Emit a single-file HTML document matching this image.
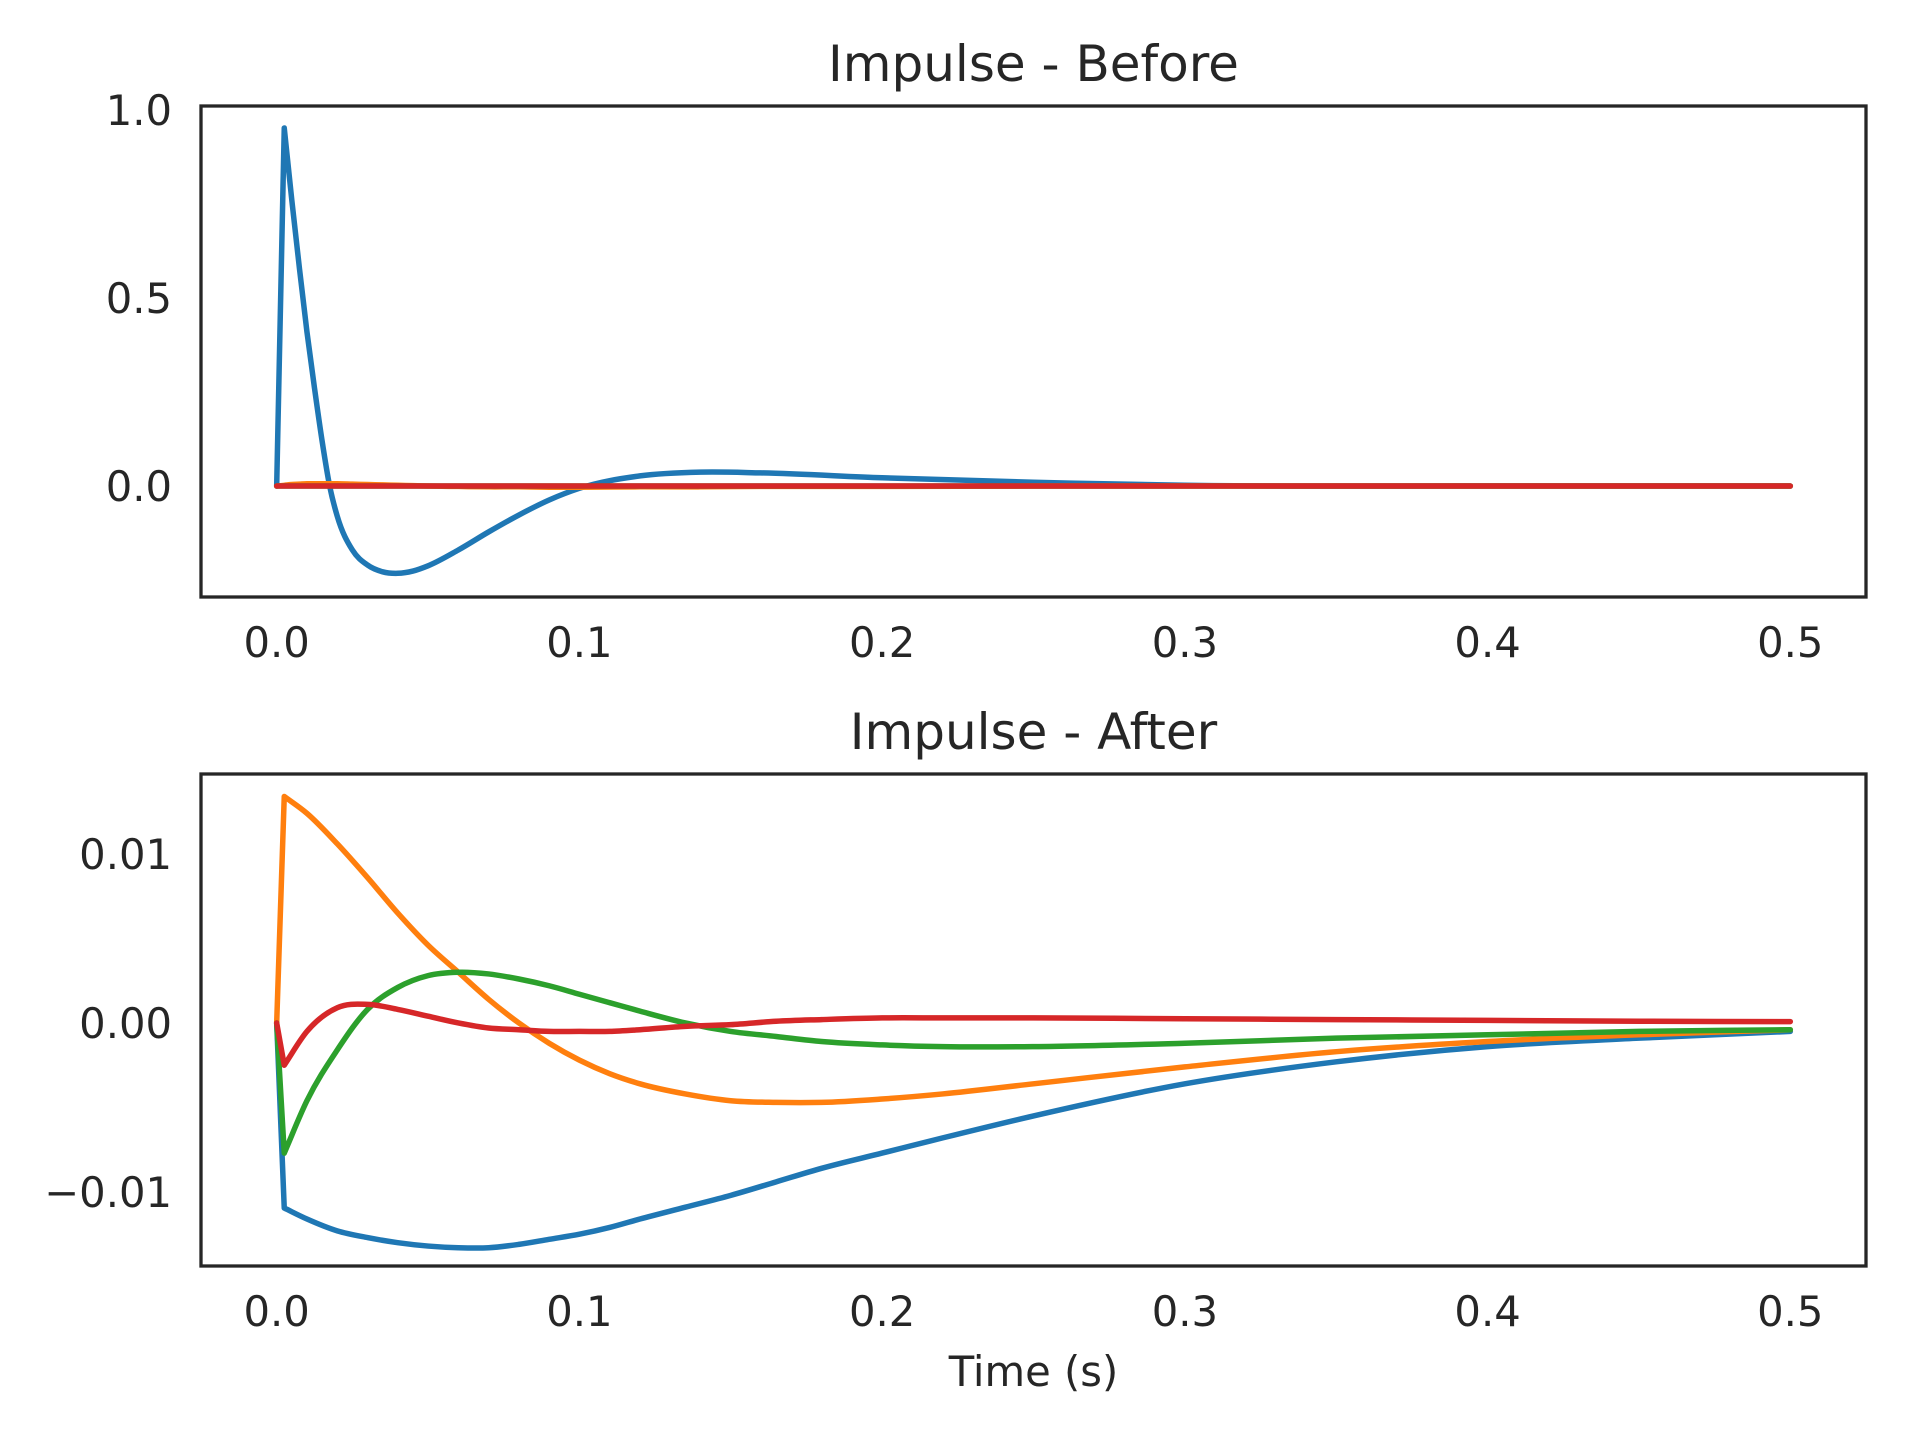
<!DOCTYPE html>
<html><head><meta charset="utf-8"><style>
html,body{margin:0;padding:0;background:#fff;}
svg{display:block;}
text{font-family:"DejaVu Sans","Liberation Sans",sans-serif;fill:#262626;}
</style></head><body>
<svg id="chart" width="1920" height="1440" viewBox="0 0 1920 1440"></svg>
<script>
// ---- data ----
const xTicks = [0.0, 0.1, 0.2, 0.3, 0.4, 0.5];
const xTickLabels = ["0.0", "0.1", "0.2", "0.3", "0.4", "0.5"];
const topYTicks = [0.0, 0.5, 1.0];
const topYTickLabels = ["0.0", "0.5", "1.0"];
const botYTicks = [-0.01, 0.0, 0.01];
const botYTickLabels = ["\u22120.01", "0.00", "0.01"];
const seriesColors = ["#1f77b4", "#ff7f0e", "#2ca02c", "#d62728"];

const beforeT = [0,0.0025,0.005,0.0075,0.01,0.0125,0.015,0.0175,0.02,0.025,0.03,0.035,0.04,0.045,0.05,0.06,0.07,0.08,0.09,0.1,0.12,0.14,0.16,0.2,0.25,0.3,0.4,0.5];
const beforeBlue = [0,0.952,0.76,0.58,0.41,0.26,0.12,0.0,-0.08,-0.17,-0.21,-0.228,-0.232,-0.226,-0.212,-0.17,-0.122,-0.077,-0.037,-0.006,0.027,0.037,0.035,0.022,0.01,0.002,0,0];
const beforeOrange = [0,0.002,0.004,0.005,0.006,0.006,0.006,0.006,0.006,0.005,0.004,0.003,0.002,0.001,0,-0.001,-0.002,-0.002,-0.003,-0.003,-0.002,-0.002,-0.001,-0.001,0,0,0,0];
const beforeGreen = [0,0,0,0,0,0,0,0,0,0,0,0,0,0,0,0,0,0,0,0,0,0,0,0,0,0,0,0];
const beforeRed = [0,0,0,0,0,0,0,0,0,0,0,0,0,0,0,0,0,0,0,0,0,0,0,0,0,0,0,0];

const afterT = [0,0.0025,0.01,0.02,0.03,0.04,0.05,0.06,0.07,0.08,0.09,0.1,0.11,0.12,0.135,0.15,0.165,0.18,0.2,0.22,0.25,0.3,0.35,0.4,0.45,0.5];
const afterBlue = [0,-0.01095,-0.0116,-0.0123,-0.0127,-0.0130,-0.0132,-0.0133,-0.0133,-0.0131,-0.0128,-0.0125,-0.0121,-0.0116,-0.0109,-0.0102,-0.0094,-0.0086,-0.0077,-0.0068,-0.0055,-0.0036,-0.0023,-0.0014,-0.0009,-0.0005];
const afterOrange = [0,0.0134,0.0124,0.0106,0.0086,0.0065,0.0046,0.0030,0.0014,0.0000,-0.0012,-0.0022,-0.0030,-0.0036,-0.0042,-0.0046,-0.0047,-0.0047,-0.0045,-0.0042,-0.0036,-0.0026,-0.0017,-0.0011,-0.0007,-0.0004];
const afterGreen = [0,-0.0077,-0.0046,-0.0016,0.0008,0.0021,0.0028,0.0030,0.0029,0.0026,0.0022,0.0017,0.0012,0.0007,0.0000,-0.0005,-0.0008,-0.0011,-0.0013,-0.0014,-0.0014,-0.0012,-0.0009,-0.0007,-0.0005,-0.0004];
const afterRed = [0,-0.0025,-0.0005,0.0009,0.0011,0.0008,0.0004,0.0000,-0.0003,-0.0004,-0.0005,-0.0005,-0.0005,-0.0004,-0.0002,-0.0001,0.0001,0.0002,0.0003,0.0003,0.0003,0.00025,0.0002,0.00015,0.0001,0.00008];

// ---- layout ----
const NS = "http://www.w3.org/2000/svg";
const svg = document.getElementById("chart");
const L = 201, R = 1866;
const xMin = -0.025, xMax = 0.525;
function xScale(v){ return L + (v - xMin) / (xMax - xMin) * (R - L); }

function mk(tag, attrs, parent){
  const e = document.createElementNS(NS, tag);
  for (const k in attrs) e.setAttribute(k, attrs[k]);
  (parent || svg).appendChild(e);
  return e;
}
// cubic Hermite with slopes from neighbours (non-uniform spacing aware)
function smoothPath(pts){
  const n = pts.length;
  const m = new Array(n);
  for (let i = 1; i < n; i++){
    if (i === 1 || i === n-1){
      const a = pts[i], b = i === 1 ? pts[2] : pts[i-1];
      m[i] = (b[1]-a[1])/(b[0]-a[0]);
    } else {
      const d0 = (pts[i][1]-pts[i-1][1])/(pts[i][0]-pts[i-1][0]);
      const d1 = (pts[i+1][1]-pts[i][1])/(pts[i+1][0]-pts[i][0]);
      const h0 = pts[i][0]-pts[i-1][0], h1 = pts[i+1][0]-pts[i][0];
      m[i] = (d0*h1 + d1*h0)/(h0+h1);
    }
  }
  let d = "M" + pts[0][0].toFixed(2) + "," + pts[0][1].toFixed(2);
  d += " L" + pts[1][0].toFixed(2) + "," + pts[1][1].toFixed(2);
  for (let i = 1; i < n - 1; i++){
    const p1 = pts[i], p2 = pts[i+1], h = p2[0]-p1[0];
    const c1x = p1[0] + h/3, c1y = p1[1] + m[i]*h/3;
    const c2x = p2[0] - h/3, c2y = p2[1] - m[i+1]*h/3;
    d += " C" + c1x.toFixed(2)+","+c1y.toFixed(2)+" "+c2x.toFixed(2)+","+c2y.toFixed(2)+" "+p2[0].toFixed(2)+","+p2[1].toFixed(2);
  }
  return d;
}

function panel(cfg){
  const g = mk("g", {});
  
  
  function yScale(v){ return cfg.bot - (v - cfg.yMin) / (cfg.yMax - cfg.yMin) * (cfg.bot - cfg.top); }
  const t = mk("text", {x: (L+R)/2, y: cfg.top - 25, "text-anchor":"middle", "font-size":"50"}, g);
  t.textContent = cfg.title;
  
  
  const cid = cfg.name + "-clip";
  const cp = mk("clipPath", {id: cid}, g);
  mk("rect", {x:L, y:cfg.top, width:R-L, height:cfg.bot-cfg.top}, cp);
  const lg = mk("g", {"clip-path":"url(#"+cid+")"}, g);
  cfg.series.forEach((vals, si) => {
    const pts = cfg.t.map((tv, i) => [xScale(tv), yScale(vals[i])]);
    const p = mk("path", {d: smoothPath(pts), fill:"none", stroke: seriesColors[si], "stroke-width":"5.5", "stroke-linejoin":"round", "stroke-linecap":"round"}, lg);
    
    
  });
  const fr = mk("rect", {x:L, y:cfg.top, width:R-L, height:cfg.bot-cfg.top, fill:"none", stroke:"#262626", "stroke-width":"3.3"}, g);
  
  
  xTicks.forEach((v, i) => {
    const tx = mk("text", {x: xScale(v), y: cfg.bot + 60, "text-anchor":"middle", "font-size":"41.7"}, g);
    tx.textContent = xTickLabels[i];
    
    
  });
  cfg.yTicks.forEach((v, i) => {
    const ty = mk("text", {x: 172, y: yScale(v) + 15, "text-anchor":"end", "font-size":"41.7"}, g);
    ty.textContent = cfg.yLabels[i];
    
    
  });
}

panel({name:"before-panel", title:"Impulse - Before", top:106, bot:597, yMin:-0.295, yMax:1.0106,
  t: beforeT, series:[beforeBlue, beforeOrange, beforeGreen, beforeRed], yTicks: topYTicks, yLabels: topYTickLabels});
panel({name:"after-panel", title:"Impulse - After", top:774, bot:1266, yMin:-0.01438, yMax:0.01473,
  t: afterT, series:[afterBlue, afterOrange, afterGreen, afterRed], yTicks: botYTicks, yLabels: botYTickLabels});

const xl = mk("text", {x:(L+R)/2, y:1386, "text-anchor":"middle", "font-size":"41.7"});
xl.textContent = "Time (s)";


</script>
</body></html>
